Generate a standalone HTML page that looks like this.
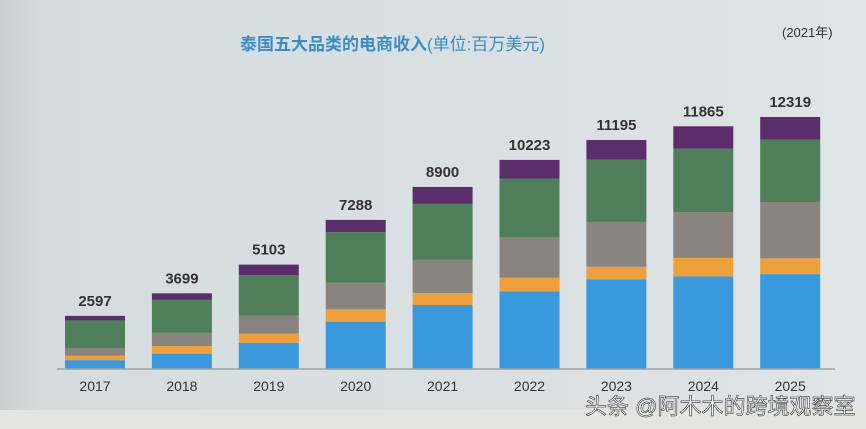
<!DOCTYPE html>
<html><head><meta charset="utf-8"><style>
body{margin:0;width:866px;height:429px;overflow:hidden;background:#d6dde0;font-family:"Liberation Sans","Noto Sans CJK SC",sans-serif}
svg{display:block}
</style></head><body>
<svg id="chart" width="866" height="429" viewBox="0 0 866 429">
<defs><linearGradient id="bg" x1="0" y1="0" x2="1" y2="0"><stop offset="0" stop-color="#c8cfd2"/><stop offset="0.05" stop-color="#d5dcdf"/><stop offset="0.9" stop-color="#dde3e5"/><stop offset="1" stop-color="#e2e6e7"/></linearGradient></defs>
<rect x="0" y="0" width="866" height="429" fill="url(#bg)"/>
<rect x="0" y="410" width="866" height="19" fill="#e4e4e2"/>
<text x="240" y="50" font-size="17" font-weight="bold" fill="#3a8ec6">泰国五大品类的电商收入<tspan font-weight="normal">(单位:百万美元)</tspan></text>
<text x="782" y="37" font-size="13" fill="#333">(2021年)</text>
<g id="bars"></g>
<line x1="57" y1="369" x2="835" y2="369" stroke="#9aa3a8" stroke-width="1.5"/>
<text x="585" y="414" font-size="22" fill="#fff" stroke="#555" stroke-width="0.7">头条 @阿木木的跨境观察室</text>
</svg>
<script>
const categories=["2017","2018","2019","2020","2021","2022","2023","2024","2025"];
const totals=[2597,3699,5103,7288,8900,10223,11195,11865,12319];
const blue=[432,750,1276,2313,3130,3792,4380,4527,4638];
const orange=[216,375,459,603,587,672,619,905,773];
const gray=[378,643,868,1307,1614,1968,2190,2240,2754];
const green=[1350,1608,1990,2465,2738,2880,3047,3097,3043];
const purple=[221,323,510,600,831,911,959,1096,1111];
const series=[blue,orange,gray,green,purple];
const colors=["#3a98dc","#eea03a","#8a8480","#4f7f58","#5b2e6b"];
const names=["blue","orange","gray","green","purple"];
const base=369,k=252/12319;
const y=v=>base-v*k;
const x0=95,step=86.9,bw=60;
const xc=i=>x0+i*step;
const g=document.getElementById('bars');
const NS="http://www.w3.org/2000/svg";
categories.forEach((c,i)=>{
  let acc=0;
  series.forEach((s,j)=>{
    const r=document.createElementNS(NS,'rect');
    r.setAttribute('x',xc(i)-bw/2);
    r.setAttribute('y',y(acc+s[i]));
    r.setAttribute('width',bw);
    r.setAttribute('height',s[i]*k);
    r.setAttribute('fill',colors[j]);
    
    
    g.appendChild(r);
    acc+=s[i];
  });
  const t=document.createElementNS(NS,'text');
  t.setAttribute('x',xc(i));t.setAttribute('y',y(acc)-10);
  t.setAttribute('text-anchor','middle');t.setAttribute('font-size','15');t.setAttribute('font-weight','bold');t.setAttribute('fill','#333');
  t.textContent=totals[i];
  
  
  g.appendChild(t);
  const l=document.createElementNS(NS,'text');
  l.setAttribute('x',xc(i));l.setAttribute('y',base+22);
  l.setAttribute('text-anchor','middle');l.setAttribute('font-size','14');l.setAttribute('fill','#333');
  l.textContent=c;
  
  
  g.appendChild(l);
});
</script>
</body></html>
